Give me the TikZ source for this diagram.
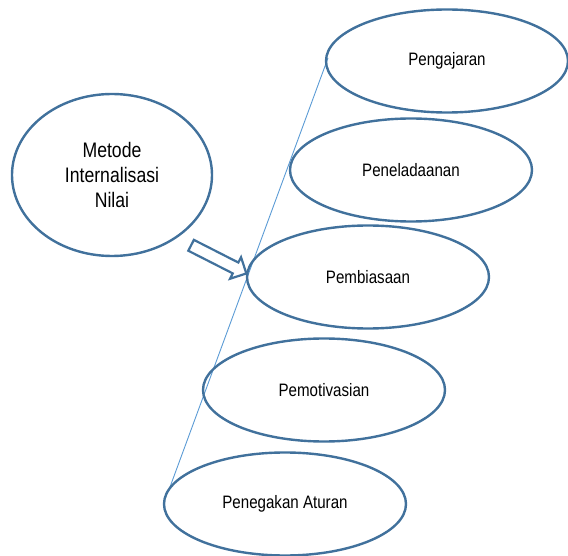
\documentclass[tikz,border=0pt]{standalone}
\usepackage{fontspec}
\setmainfont{Liberation Sans}[FakeStretch=0.84]
\usetikzlibrary{shapes.geometric,shapes.arrows}
\definecolor{garis}{HTML}{41719C}
\definecolor{tipis}{HTML}{5B9BD5}
\begin{document}
\begin{tikzpicture}[x=1pt,y=-1pt,
  oval/.style={ellipse,draw=garis,line width=2.4pt,minimum width=242pt,
    minimum height=103pt,inner sep=0pt,font=\fontsize{18}{22}\selectfont},
  pusat/.style={ellipse,draw=garis,line width=2.4pt,minimum width=200pt,
    minimum height=162pt,align=center,font=\fontsize{21}{25}\selectfont},
  panah/.style={single arrow,draw=garis,line width=2.2pt,minimum height=62pt,
    inner xsep=0pt,inner ysep=5pt,single arrow head extend=6pt,
    single arrow head indent=0pt,rotate=-27}]
  \useasboundingbox (0,0) rectangle (568,556);
  \coordinate (atas) at (328,58);
  \coordinate (bawah) at (170,487);
  \draw[tipis,line width=0.9pt] (atas) -- (bawah);
  \node[pusat] (metode) at (112,175) {Metode\\Internalisasi\\Nilai};
  \node[oval] (pengajaran) at (447,61) {Pengajaran};
  \node[oval] (peneladaanan) at (411,170) {Peneladaanan};
  \node[oval] (pembiasaan) at (368,277) {Pembiasaan};
  \node[oval] (pemotivasian) at (324,390) {Pemotivasian};
  \node[oval] (penegakan) at (285,504) {Penegakan Aturan};
  \node[panah] (arah) at (216,258) {};
\end{tikzpicture}
\end{document}
